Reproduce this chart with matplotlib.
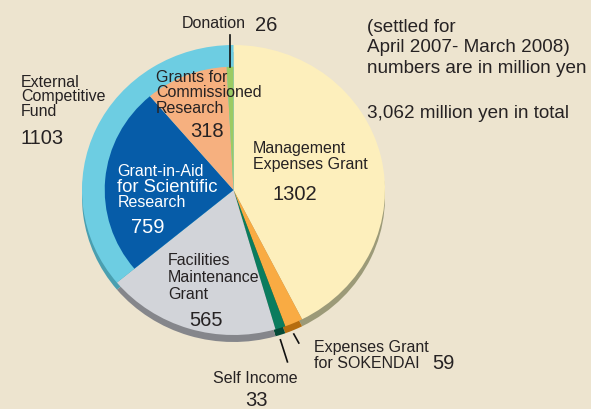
import numpy as np
import matplotlib.pyplot as plt

plt.rcParams['font.family'] = ['Liberation Sans', 'DejaVu Sans']

W, H = 591, 409
SQ = 145 / 151.5  # pie face is a little flatter than wide

# budget, million yen (April 2007 - March 2008)
main_labels = ["Management Expenses Grant", "Expenses Grant for SOKENDAI", "Self Income",
               "Facilities Maintenance Grant", "External Competitive Fund"]
main_values = [1302, 59, 33, 565, 1103]
ext_labels = ["Grant-in-Aid for Scientific Research", "Grants for Commissioned Research", "Donation"]
ext_values = [759, 318, 26]
total = sum(main_values)

bg = "#ede4cf"
dark = "#262223"
main_colors = ["#fdefbc", "#f9ab43", "#0b7c5e", "#d2d4d9", "#6dcde2"]
rim_colors = ["#9c9a78", "#b56d10", "#044a37", "#85868b", "#4a9fb0"]
ext_colors = ["#065ca8", "#f6b07f", "#9bcb63"]

cx, cy_px, R = 233.5, 190, 151.5
cy = (H - cy_px) / SQ
drop = 7 / SQ

fig = plt.figure(figsize=(W / 100, H / 100), dpi=100, facecolor=bg)
ax = fig.add_axes([0, 0, 1, 1])
ax.set_facecolor(bg)

wp = dict(linewidth=0, antialiased=True)
# 3d rim
ax.pie(main_values, colors=rim_colors, startangle=90, counterclock=False,
       center=(cx, cy - drop), radius=R, wedgeprops=wp)
# face
ax.pie(main_values, colors=main_colors, startangle=90, counterclock=False,
       center=(cx, cy), radius=R, wedgeprops=wp)
# external fund split, drawn smaller inside the light blue wedge
ax.pie(main_values[:4] + ext_values, colors=["none"] * 4 + ext_colors,
       startangle=90, counterclock=False, center=(cx, cy), radius=0.85 * R,
       wedgeprops=wp)

ax.set_xlim(0, W)
ax.set_ylim(0, H / SQ)
ax.set_aspect('auto')
ax.axis('off')


def mid_point(i, values, r):
    before = sum(values[:i])
    theta = np.radians(90 - 360 * (before + values[i] / 2) / total)
    return cx + r * np.cos(theta), cy + r * np.sin(theta)


def label(x, y, s, size=11.5, color=dark, **kw):
    ax.text(x, (H - y) / SQ, s, fontsize=size, color=color,
            ha='left', va='baseline', **kw)


# leader lines
all_values = main_values[:4] + ext_values
dx, dy = mid_point(6, all_values, 0.85 * R)
ax.plot([dx, dx], [dy, (H - 35) / SQ], color="#111111", lw=1.2)
sx, sy = mid_point(2, main_values, R)
sy -= drop + 5 / SQ
ax.plot([sx, sx + 7], [sy, sy - 22 / SQ], color="#111111", lw=1.2)
ox, oy = mid_point(1, main_values, R)
oy -= drop + 4 / SQ
ax.plot([ox, ox + 5], [oy, oy - 9 / SQ], color="#111111", lw=1.2)

# notes
note = ["(settled for", "April 2007- March 2008)", "numbers are in million yen"]
for k, line in enumerate(note):
    label(367, 32 + 20.5 * k, line, size=13.6)
label(367, 118, f"{total:,} million yen in total", size=13.6)

# slice labels
label(182, 28, "Donation")
label(255, 31, f"{ext_values[2]}", size=14.5)

for k, line in enumerate(["External", "Competitive", "Fund"]):
    label(21, 87 + 14.5 * k, line)
label(21, 144, f"{main_values[4]}", size=14.5)

for k, line in enumerate(["Grants for", "Commissioned", "Research"]):
    label(156, 82 + 15.5 * k, line)
label(190, 137, f"{ext_values[1]}", size=14.5)

for k, line in enumerate(["Management", "Expenses Grant"]):
    label(253, 153 + 16 * k, line)
label(273, 200, f"{main_values[0]}", size=14.5)

label(117, 176, "Grant-in-Aid", color="white")
label(117, 192, "for Scientific", size=13.3, color="white")
label(118, 207, "Research", color="white")
label(131, 233, f"{ext_values[0]}", size=14.5, color="white")

for k, line in enumerate(["Facilities", "Maintenance", "Grant"]):
    label(168, 265 + 17 * k, line)
label(189, 326, f"{main_values[3]}", size=14.5)

for k, line in enumerate(["Expenses Grant", "for SOKENDAI"]):
    label(314, 352 + 15.5 * k, line)
label(432, 369, f"{main_values[1]}", size=14.5)

label(213, 383, "Self Income")
label(245, 406, f"{main_values[2]}", size=14.5)

fig.savefig("out.png", dpi=100, facecolor=bg)
